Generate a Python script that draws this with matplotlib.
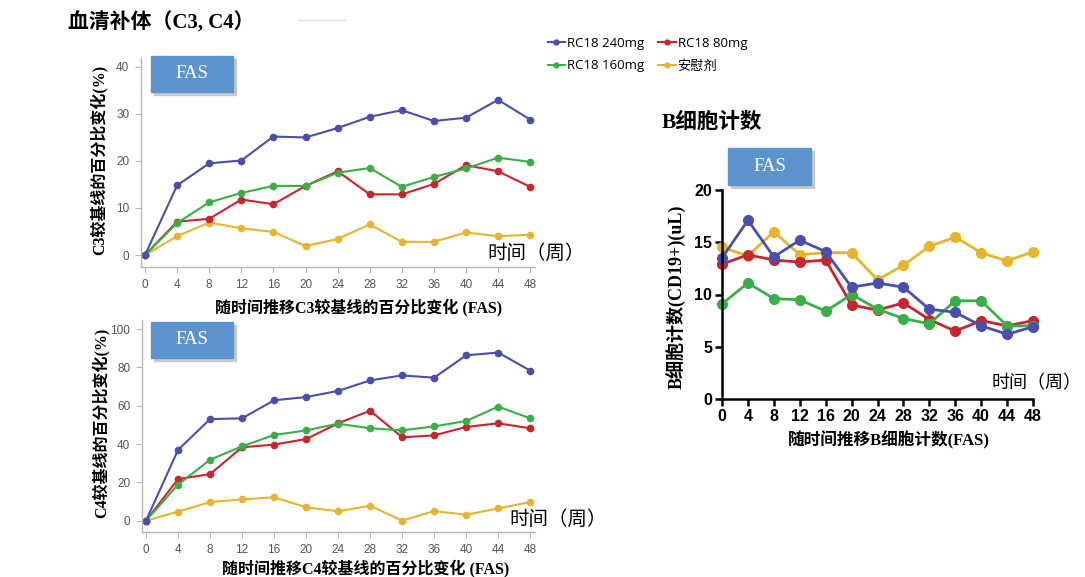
import matplotlib
matplotlib.use('Agg')
import matplotlib.pyplot as plt
from matplotlib.patches import Rectangle
from matplotlib.lines import Line2D
from matplotlib.font_manager import FontProperties

plt.rcParams['font.family'] = ['Liberation Serif', 'Noto Sans CJK SC']

weeks = [0, 4, 8, 12, 16, 20, 24, 28, 32, 36, 40, 44, 48]

c3_240 = [0, 14.8, 19.5, 20.1, 25.2, 25.0, 27.0, 29.4, 30.8, 28.5, 29.2, 33.0, 28.8]
c3_80 = [0, 7.1, 7.7, 11.8, 10.8, 14.7, 17.8, 12.9, 12.9, 15.1, 19.1, 17.8, 14.5]
c3_160 = [0, 6.8, 11.2, 13.2, 14.7, 14.7, 17.5, 18.5, 14.5, 16.6, 18.4, 20.7, 19.8]
c3_pbo = [0, 4.0, 6.9, 5.7, 4.9, 1.9, 3.4, 6.5, 2.8, 2.8, 4.8, 4.0, 4.3]

c4_240 = [0, 36.9, 53.0, 53.4, 62.8, 64.5, 67.7, 73.2, 75.8, 74.6, 86.3, 87.7, 78.3]
c4_80 = [0, 21.7, 24.3, 38.3, 39.7, 42.6, 50.8, 57.4, 43.5, 44.5, 48.9, 50.8, 48.2]
c4_160 = [0, 18.8, 31.8, 38.8, 44.7, 47.1, 50.6, 48.2, 47.1, 49.2, 52.0, 59.5, 53.4]
c4_pbo = [0, 4.7, 9.7, 11.1, 12.2, 7.0, 4.9, 7.8, 0.0, 5.0, 3.1, 6.4, 9.7]

b_240 = [13.5, 17.1, 13.6, 15.2, 14.1, 10.7, 11.1, 10.7, 8.6, 8.3, 7.0, 6.2, 6.9]
b_80 = [12.9, 13.8, 13.3, 13.1, 13.3, 9.0, 8.5, 9.2, 7.6, 6.5, 7.5, 7.0, 7.5]
b_160 = [9.1, 11.1, 9.6, 9.5, 8.4, 10.0, 8.6, 7.7, 7.2, 9.4, 9.4, 7.0, 7.0]
b_pbo = [14.5, 13.7, 16.0, 13.8, 14.0, 14.0, 11.4, 12.8, 14.6, 15.5, 14.0, 13.2, 14.1]

labels = ['RC18 240mg', 'RC18 160mg', 'RC18 80mg', '安慰剂']
colors = ['#4a4fae', '#3aaf47', '#c9252c', '#e6b52e']

W, H = 1085, 577
fig = plt.figure(figsize=(W / 100, H / 100), dpi=100)


def box(l, t, r, b):
    return [l / W, 1 - b / H, (r - l) / W, (b - t) / H]


def fx(x):
    return x / W


def fy(y):
    return 1 - y / H


def fas_box(l, t, r, b):
    fig.patches.append(Rectangle((fx(l + 3), fy(b + 3)), (r - l) / W, (b - t) / H,
                                 transform=fig.transFigure, color='#c8c8c8', zorder=5))
    fig.patches.append(Rectangle((fx(l), fy(b)), (r - l) / W, (b - t) / H,
                                 transform=fig.transFigure, color='#5d93cd', zorder=6))
    fig.text(fx((l + r) / 2), fy((t + b) / 2), 'FAS', color='white', fontsize=13.5,
             ha='center', va='center', family='Liberation Serif', zorder=7)


def light_axes(ax, ylim, yticks):
    for s in ['top', 'right']:
        ax.spines[s].set_visible(False)
    for s in ['left', 'bottom']:
        ax.spines[s].set_color('#b5b5b5')
        ax.spines[s].set_linewidth(1)
    ax.set_xlim(-0.5, 48.6)
    ax.set_ylim(*ylim)
    ax.set_xticks(weeks)
    ax.set_yticks(yticks)
    ax.tick_params(colors='#b5b5b5', labelcolor='#555555', length=4.5, width=0.8,
                   labelsize=8.5, pad=4)
    for t in ax.get_xticklabels() + ax.get_yticklabels():
        t.set_family('Liberation Sans')


# C3 chart
ax1 = fig.add_axes(box(141, 58, 535, 267))
for ys, c in zip([c3_pbo, c3_80, c3_160, c3_240], [colors[3], colors[2], colors[1], colors[0]]):
    ax1.plot(weeks, ys, color=c, lw=1.5, marker='o', ms=4.5, clip_on=False)
light_axes(ax1, (-2.55, 41.9), [0, 10, 20, 30, 40])

# C4 chart
ax2 = fig.add_axes(box(142, 320, 535, 532))
for ys, c in zip([c4_pbo, c4_80, c4_160, c4_240], [colors[3], colors[2], colors[1], colors[0]]):
    ax2.plot(weeks, ys, color=c, lw=1.5, marker='o', ms=4.5, clip_on=False)
light_axes(ax2, (-5.9, 104.7), [0, 20, 40, 60, 80, 100])

# B cell chart
ax3 = fig.add_axes(box(722, 190, 1033, 399))
for ys, c in zip([b_pbo, b_80, b_160, b_240], [colors[3], colors[2], colors[1], colors[0]]):
    ax3.plot(weeks, ys, color=c, lw=2, marker='o', ms=7, clip_on=False)
for s in ['top', 'right']:
    ax3.spines[s].set_visible(False)
for s in ['left', 'bottom']:
    ax3.spines[s].set_linewidth(1.8)
ax3.set_xlim(0, 48)
ax3.set_ylim(0, 20)
ax3.set_xticks(weeks)
ax3.set_yticks([0, 5, 10, 15, 20])
ax3.tick_params(length=5, width=1.8, labelsize=11.5, pad=2)
for t in ax3.get_xticklabels() + ax3.get_yticklabels():
    t.set_family('Liberation Sans')
    t.set_fontweight('bold')

# texts
fig.text(fx(68), fy(23), '血清补体（C3, C4）', fontsize=15, fontweight='bold', va='center')
fig.add_artist(Line2D([fx(298), fx(345)], [fy(20), fy(20)], color='#dddddd', lw=1))

fig.text(fx(99), fy(160), 'C3较基线的百分比变化(%)', rotation=90, fontsize=11.5,
         fontweight='bold', ha='center', va='center')
fig.text(fx(359), fy(307), '随时间推移C3较基线的百分比变化 (FAS)', fontsize=11.5,
         fontweight='bold', ha='center', va='center')
fig.text(fx(487), fy(253), '时间（周）', fontsize=14, ha='left', va='center')

fig.text(fx(101), fy(423), 'C4较基线的百分比变化(%)', rotation=90, fontsize=11.5,
         fontweight='bold', ha='center', va='center')
fig.text(fx(366), fy(568), '随时间推移C4较基线的百分比变化 (FAS)', fontsize=11.5,
         fontweight='bold', ha='center', va='center')
fig.text(fx(509), fy(519), '时间（周）', fontsize=14, ha='left', va='center')

fig.text(fx(662), fy(123), 'B细胞计数', fontsize=15.5, fontweight='bold', ha='left', va='center')
fig.text(fx(677), fy(297), 'B细胞计数(CD19+)(uL)', rotation=90, fontsize=13,
         fontweight='bold', ha='center', va='center')
fig.text(fx(889), fy(440), '随时间推移B细胞计数(FAS)', fontsize=12,
         fontweight='bold', ha='center', va='center')
fig.text(fx(992), fy(384), '时间（周）', fontsize=13, ha='left', va='center')

fas_box(151, 56, 233, 92)
fas_box(151, 322, 233, 358)
fas_box(728, 148, 811, 185)

# legend
handles = [Line2D([], [], color=c, lw=1.5, marker='o', ms=3.5) for c in colors]
fig.legend(handles, labels, loc='upper left', bbox_to_anchor=(fx(541), fy(30)), ncol=2,
           frameon=False, borderpad=0, handlelength=1.3, handletextpad=0.15,
           columnspacing=1.1, labelspacing=0.75,
           prop=FontProperties(family=['Open Sans', 'Noto Sans CJK SC'], size=9.5))

fig.savefig('out.png', dpi=100)
